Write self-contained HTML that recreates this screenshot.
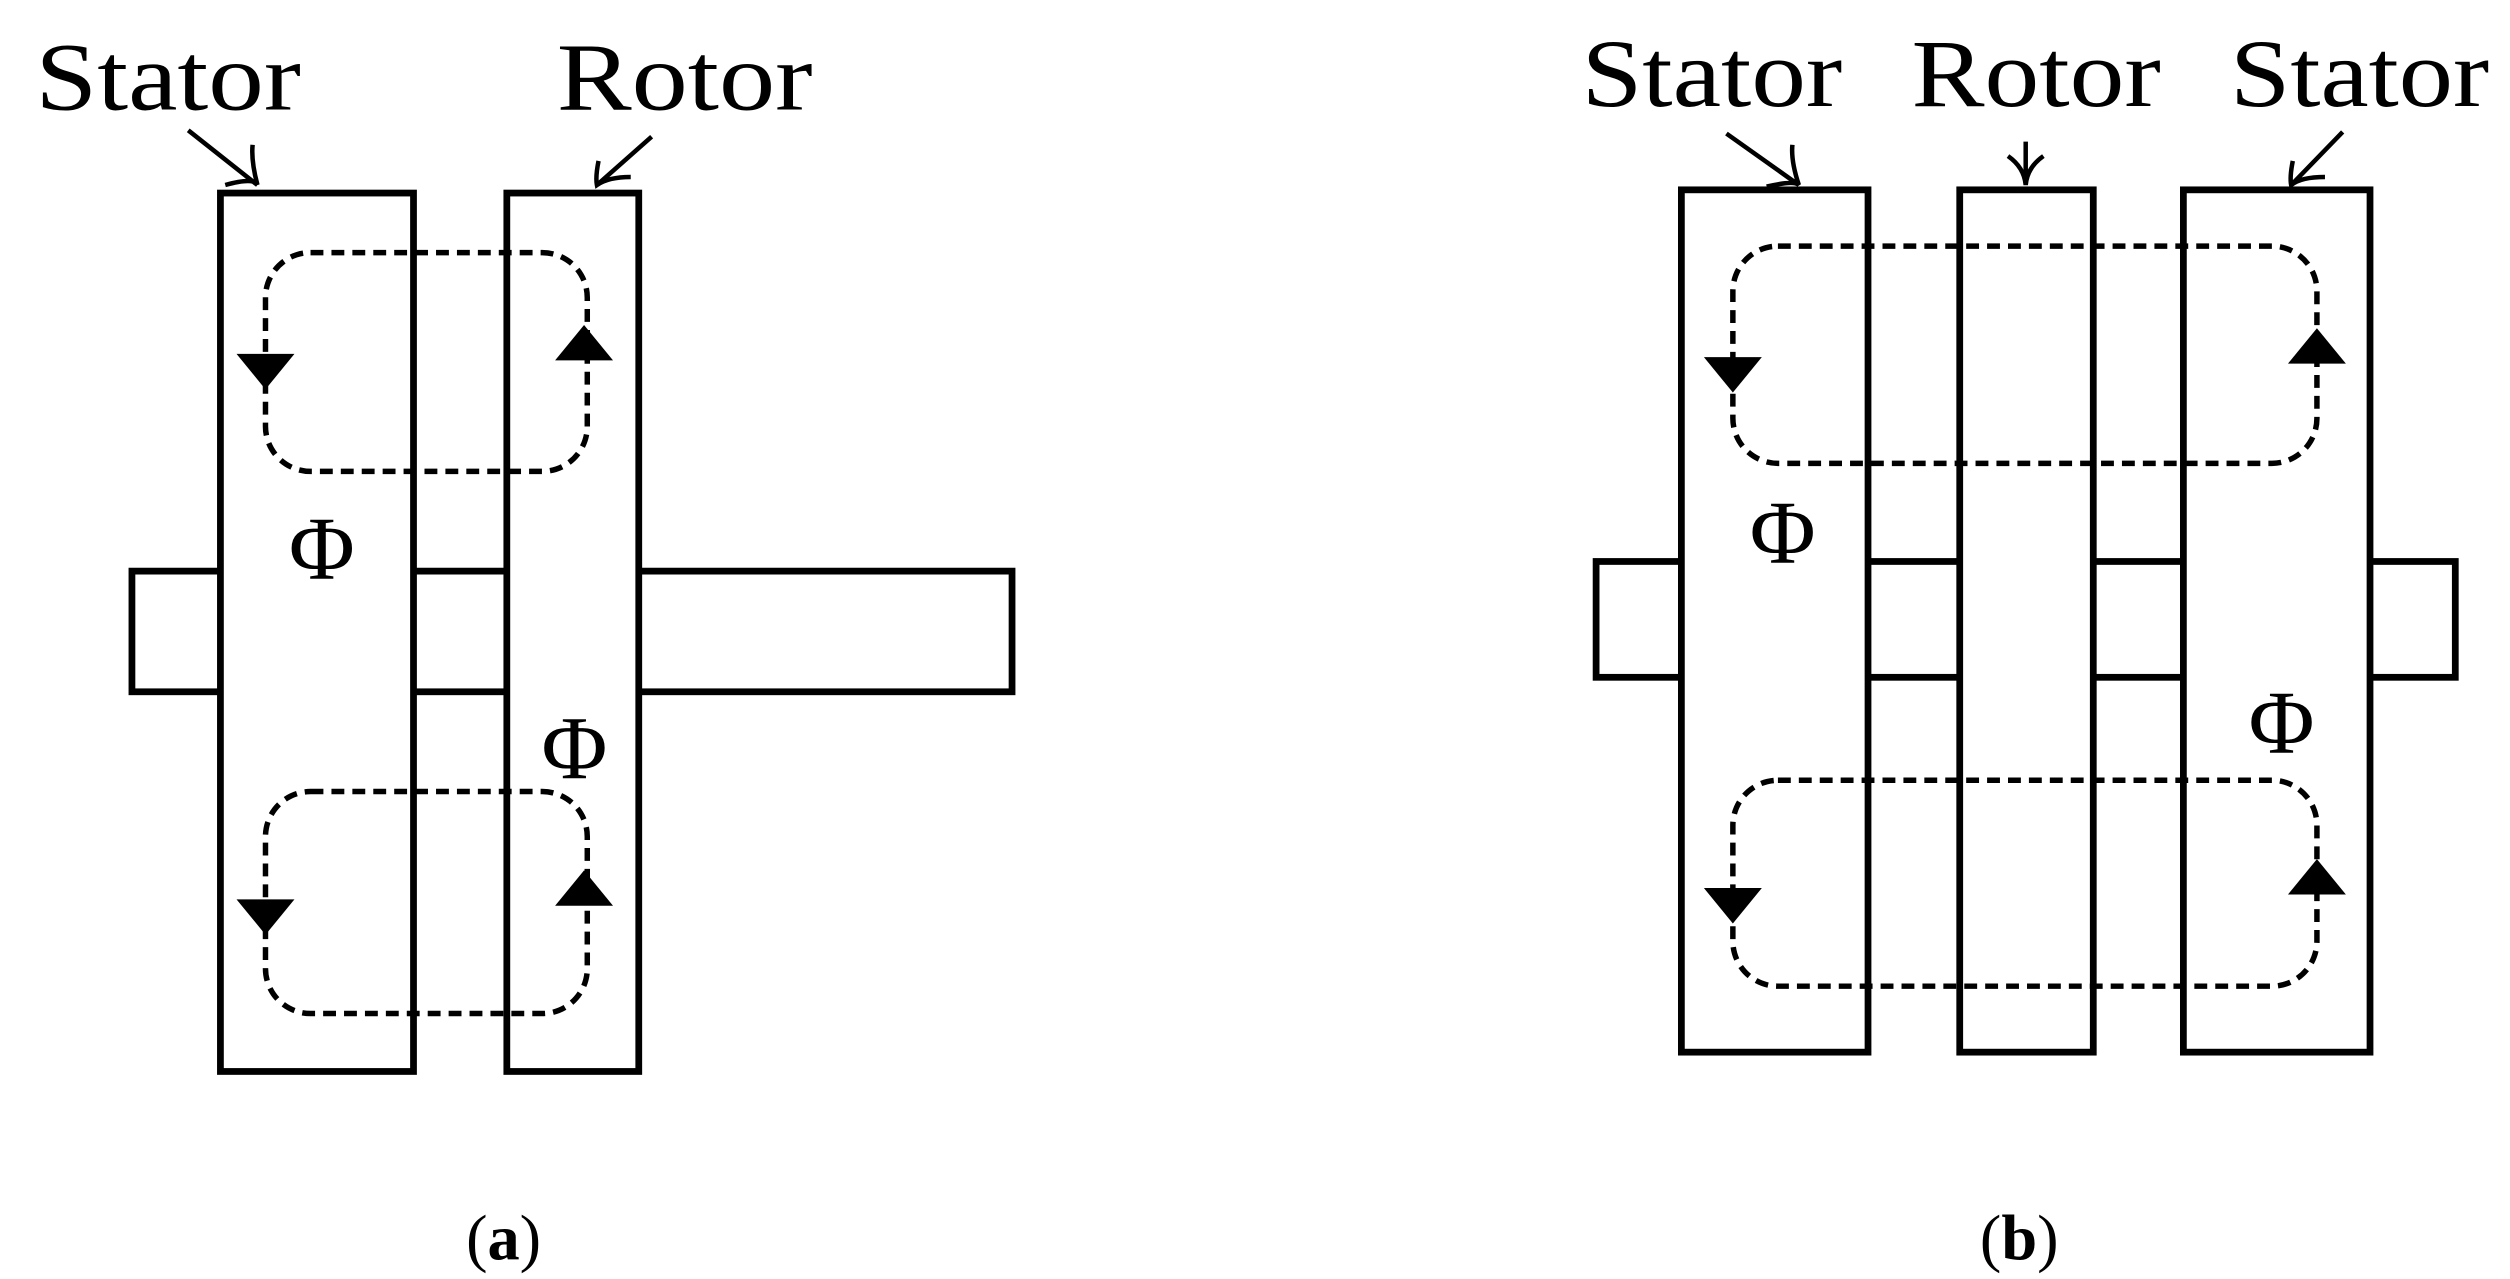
<!DOCTYPE html>
<html><head><meta charset="utf-8"><style>
html,body{margin:0;padding:0;background:#fff;width:2510px;height:1279px;overflow:hidden}
svg{display:block}
text{font-family:"Liberation Serif",serif;fill:#000}
</style></head><body>
<svg width="2510" height="1279" viewBox="0 0 1560 795" preserveAspectRatio="none" xmlns="http://www.w3.org/2000/svg">
<g fill="#fff" stroke="#000" stroke-width="4.2">
<rect x="82" y="355" width="547" height="75"/>
<rect x="137" y="120" width="120" height="546"/>
<rect x="315" y="120" width="82" height="546"/>
<rect x="992" y="349" width="534" height="72"/>
<rect x="1045" y="118" width="116" height="536"/>
<rect x="1218" y="118" width="83" height="536"/>
<rect x="1357" y="118" width="116" height="536"/>
</g>
<g fill="none" stroke="#000" stroke-width="3.4" stroke-dasharray="8,5">
<rect x="165" y="157" width="200" height="136" rx="28"/>
<rect x="165" y="492" width="200" height="138" rx="28"/>
<rect x="1077" y="153" width="363" height="135" rx="28"/>
<rect x="1077" y="485" width="363" height="128" rx="28"/>
</g>
<g fill="#000">
<polygon points="147,220 183,220 165,242"/>
<polygon points="345,224 381,224 363,202"/>
<polygon points="147,559 183,559 165,581"/>
<polygon points="345,563 381,563 363,541"/>
<polygon points="1059,222 1095,222 1077,244"/>
<polygon points="1422,226 1458,226 1440,204"/>
<polygon points="1059,552 1095,552 1077,574"/>
<polygon points="1422,556 1458,556 1440,534"/>
</g>
<g fill="none" stroke="#000" stroke-width="2.8">
<path d="M117,81 L160,115 M140,115 Q158,110 160,115 Q156,100 157,90"/>
<path d="M405,85 L371,115 M372,100 Q370,110 371,115 Q378,110 392,110"/>
<path d="M1073,83 L1118,115 M1098,116 Q1115,112 1118,115 Q1113,100 1114,90"/>
<path d="M1259,88 L1259,115 M1248,97 Q1258,104 1259,115 Q1260,104 1270,97"/>
<path d="M1456,82 L1424,115 M1425,100 Q1423,110 1424,115 Q1430,110 1445,110"/>
</g>
<g font-size="60">
<text x="22" y="68" textLength="165" lengthAdjust="spacingAndGlyphs">Stator</text>
<text x="346" y="68" textLength="159" lengthAdjust="spacingAndGlyphs">Rotor</text>
<text x="983" y="66" textLength="162" lengthAdjust="spacingAndGlyphs">Stator</text>
<text x="1188" y="66" textLength="155" lengthAdjust="spacingAndGlyphs">Rotor</text>
<text x="1386" y="66" textLength="161" lengthAdjust="spacingAndGlyphs">Stator</text>
</g>
<g font-size="56" text-anchor="middle">
<text x="200" y="360">Φ</text>
<text x="357" y="484">Φ</text>
<text x="1108" y="350">Φ</text>
<text x="1418" y="468">Φ</text>
</g>
<g font-size="40" text-anchor="middle">
<text x="313" y="783">(<tspan font-weight="bold">a</tspan>)</text>
<text x="1255" y="783">(<tspan font-weight="bold">b</tspan>)</text>
</g>
</svg>
</body></html>
